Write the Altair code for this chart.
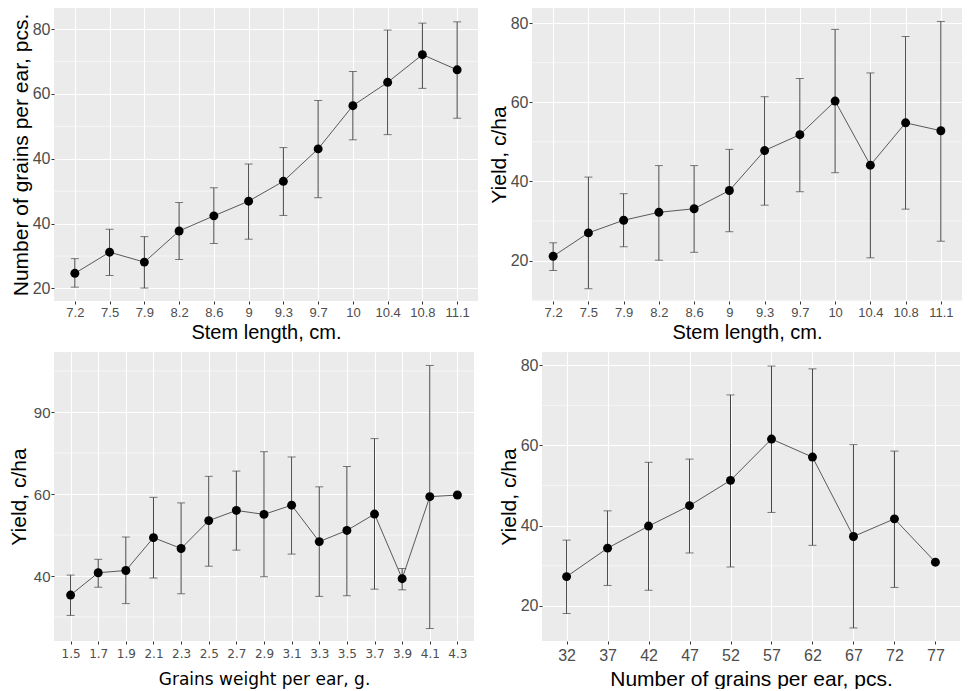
import json
import altair as alt
import pandas as pd

# ---------------- data ----------------
P1_X = ["7.2", "7.5", "7.9", "8.2", "8.6", "9", "9.3", "9.7", "10", "10.4", "10.8", "11.1"]
P1_Y = [23.5, 28.4, 26.1, 33.3, 36.8, 40.2, 44.8, 52.3, 62.3, 67.7, 74.1, 70.6]
P1_HI = [26.9, 33.7, 32.0, 39.9, 43.3, 48.8, 52.6, 63.5, 70.2, 79.8, 81.4, 81.7]
P1_LO = [20.3, 23.0, 20.1, 26.7, 30.4, 31.4, 36.9, 41.0, 54.4, 55.6, 66.3, 59.4]
P1_TICKS = [20, 35, 50, 65, 80]
P1_TICK_LABELS = ["20", "40", "40", "60", "80"]
P1_DOMAIN = [17.1, 84.9]

P2_X = P1_X
P2_Y = [21.1, 27.0, 30.2, 32.2, 33.1, 37.7, 47.8, 51.8, 60.3, 44.1, 54.8, 52.8]
P2_HI = [24.5, 41.1, 36.9, 44.0, 44.0, 48.1, 61.4, 66.0, 78.4, 67.4, 76.6, 80.4]
P2_LO = [17.5, 12.9, 23.5, 20.1, 22.1, 27.3, 34.0, 37.4, 42.2, 20.7, 33.0, 24.9]
P2_TICKS = [20, 40, 60, 80]
P2_TICK_LABELS = ["20", "40", "60", "80"]
P2_DOMAIN = [9.8, 83.8]

P3_X = ["1.5", "1.7", "1.9", "2.1", "2.3", "2.5", "2.7", "2.9", "3.1", "3.3", "3.5", "3.7", "3.9", "4.1", "4.3"]
P3_Y = [34.2, 41.0, 41.7, 51.7, 48.4, 56.9, 60.0, 58.8, 61.6, 50.5, 53.9, 58.9, 39.2, 64.2, 64.7]
P3_HI = [40.3, 45.1, 51.9, 64.0, 62.3, 70.4, 72.0, 77.9, 76.3, 67.2, 73.4, 81.9, 42.3, 104.2, None]
P3_LO = [28.0, 36.6, 31.6, 39.4, 34.6, 43.0, 47.9, 39.8, 46.7, 33.8, 34.0, 36.0, 35.8, 24.0, None]
P3_TICKS = [40, 65, 90]
P3_TICK_LABELS = ["40", "60", "90"]
P3_DOMAIN = [20.2, 108.3]

P4_X = ["32", "37", "42", "47", "52", "57", "62", "67", "72", "77"]
P4_Y = [27.3, 34.4, 39.9, 45.0, 51.3, 61.6, 57.1, 37.3, 41.7, 30.9]
P4_HI = [36.4, 43.7, 55.8, 56.6, 72.6, 79.8, 79.1, 60.2, 58.6, None]
P4_LO = [18.1, 25.1, 23.9, 33.2, 29.7, 43.3, 35.1, 14.5, 24.6, None]
P4_TICKS = [20, 40, 60, 80]
P4_TICK_LABELS = ["20", "40", "60", "80"]
P4_DOMAIN = [11.25, 83.3]

BG = "#EBEBEB"
SANS = "Liberation Sans"


def panel(xv, yv, lo, hi, domain, ticks, tick_labels, x_title, y_title,
          width, height, xlab_font=SANS, xlab_size=13, xtitle_font=SANS,
          xtitle_size=20, ylab_size=16, ytitle_size=21, ytitle_pad=1,
          xtitle_pad=3, xlab_pad=2):
    df = pd.DataFrame({"x": xv, "y": yv, "lo": lo, "hi": hi})
    err = df.dropna(subset=["lo", "hi"])
    step = ticks[1] - ticks[0]
    minor = [ticks[0] - step / 2] + [(a + b) / 2 for a, b in zip(ticks[:-1], ticks[1:])] + [ticks[-1] + step / 2]
    minor = [m for m in minor if domain[0] < m < domain[1]]
    mdf = pd.DataFrame({"m": minor})

    yscale = alt.Scale(domain=domain, nice=False, zero=False)
    label_expr = f"{json.dumps(tick_labels)}[indexof({json.dumps(ticks)}, datum.value)]"
    yaxis = alt.Axis(values=ticks, labelExpr=label_expr, title=y_title, grid=True,
                     gridColor="white", gridWidth=1.1, domain=False,
                     tickColor="#333333", tickSize=3, tickWidth=1,
                     labelFont=SANS, labelFontSize=ylab_size, labelColor="#4D4D4D",
                     labelPadding=1, titleFont=SANS, titleFontSize=ytitle_size,
                     titleFontWeight="normal", titleColor="black",
                     titlePadding=ytitle_pad)
    xaxis = alt.Axis(title=x_title, labelAngle=0, grid=True, gridColor="white",
                     gridWidth=1.1, domain=False, tickColor="#333333", tickSize=3,
                     tickWidth=1, labelFont=xlab_font, labelFontSize=xlab_size,
                     labelColor="#4D4D4D", labelPadding=xlab_pad, labelOverlap=False,
                     titleFont=xtitle_font, titleFontSize=xtitle_size,
                     titleFontWeight="normal", titleColor="black",
                     titlePadding=xtitle_pad)
    X = alt.X("x:N", sort=xv, scale=alt.Scale(type="point", padding=0.6), axis=xaxis)

    minor_layer = alt.Chart(mdf).mark_rule(color="white", strokeWidth=0.55).encode(
        y=alt.Y("m:Q", scale=yscale, axis=yaxis))
    line = alt.Chart(df).mark_line(color="#595959", strokeWidth=1).encode(
        x=X, y=alt.Y("y:Q", scale=yscale, axis=yaxis))
    bars = alt.Chart(err).mark_rule(color="#444444", strokeWidth=1).encode(
        x=X, y=alt.Y("lo:Q", scale=yscale, axis=yaxis), y2="hi:Q")
    cap_lo = alt.Chart(err).mark_tick(color="#444444", size=8, thickness=1).encode(
        x=X, y=alt.Y("lo:Q", scale=yscale, axis=yaxis))
    cap_hi = alt.Chart(err).mark_tick(color="#444444", size=8, thickness=1).encode(
        x=X, y=alt.Y("hi:Q", scale=yscale, axis=yaxis))
    pts = alt.Chart(df).mark_circle(color="black", size=80, opacity=1).encode(
        x=X, y=alt.Y("y:Q", scale=yscale, axis=yaxis))
    return alt.layer(minor_layer, line, bars, cap_lo, cap_hi, pts).properties(
        width=width, height=height)


p1 = panel(P1_X, P1_Y, P1_LO, P1_HI, P1_DOMAIN, P1_TICKS, P1_TICK_LABELS,
           "Stem length, cm.", "Number of grains per ear, pcs.", 424, 293)
p2 = panel(P2_X, P2_Y, P2_LO, P2_HI, P2_DOMAIN, P2_TICKS, P2_TICK_LABELS,
           "Stem length, cm.", "Yield, c/ha", 430, 293)
p3 = panel(P3_X, P3_Y, P3_LO, P3_HI, P3_DOMAIN, P3_TICKS, P3_TICK_LABELS,
           "Grains weight per ear, g.", "Yield, c/ha", 420, 289,
           xlab_font="DejaVu Sans", xlab_size=12, xtitle_font="DejaVu Sans",
           xtitle_size=17, ylab_size=15, ytitle_pad=4, xtitle_pad=12, xlab_pad=4)
p4 = panel(P4_X, P4_Y, P4_LO, P4_HI, P4_DOMAIN, P4_TICKS, P4_TICK_LABELS,
           "Number of grains per ear, pcs.", "Yield, c/ha", 418, 289,
           xlab_size=16, ylab_size=16, xtitle_size=21, xtitle_pad=5, xlab_pad=3)

row1 = alt.hconcat(p1, p2, spacing=9)
row2 = alt.hconcat(p3, p4, spacing=23)
chart = alt.vconcat(row1, row2, spacing=10).properties(
    padding={"left": 0, "top": 0, "right": 0, "bottom": 0}
).configure_view(fill=BG, stroke=None)

chart.save("out.html", embed_options={"renderer": "svg", "actions": False})
